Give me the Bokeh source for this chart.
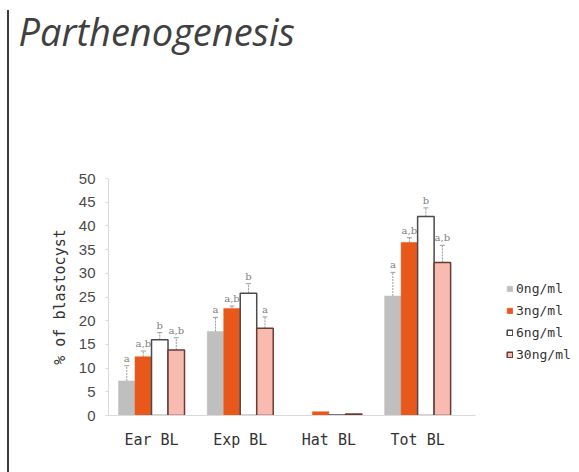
import numpy as np
from bokeh.plotting import figure
from bokeh.layouts import row, column
from bokeh.models import (Range1d, FixedTicker, Whisker, TeeHead, Legend, LegendItem,
                          ColumnDataSource, Div)
from bokeh.core.properties import value
from bokeh.embed import file_html
from bokeh.resources import INLINE

# Blastocyst stages and doses
categories = ["Ear BL", "Exp BL", "Hat BL", "Tot BL"]
doses = ["0ng/ml", "3ng/ml", "6ng/ml", "30ng/ml"]

# Mean % of blastocyst per dose, one list per dose (order follows categories)
mean_0 = [7.3, 17.7, 0.0, 25.2]
mean_3 = [12.4, 22.6, 0.8, 36.5]
mean_6 = [16.0, 25.8, 0.1, 42.0]
mean_30 = [13.8, 18.4, 0.3, 32.3]

# Upper error (SEM)
err_0 = [3.2, 3.0, 0.0, 5.0]
err_3 = [1.2, 0.5, 0.0, 1.0]
err_6 = [1.5, 2.0, 0.0, 1.8]
err_30 = [2.6, 2.4, 0.0, 3.6]

# Significance letters
sig_0 = ["a", "a", "", "a"]
sig_3 = ["a,b", "a,b", "", "a,b"]
sig_6 = ["b", "b", "", "b"]
sig_30 = ["a,b", "a", "", "a,b"]

title_text = "Parthenogenesis"

means = [mean_0, mean_3, mean_6, mean_30]
errs = [err_0, err_3, err_6, err_30]
sigs = [sig_0, sig_3, sig_6, sig_30]

fills = ["#BFBFBF", "#E8581A", "#FFFFFF", "#F8BBB0"]
outlines = [None, None, "#4A4A4A", "#6B3A35"]

W, H = 579, 472
RULE_W = 12
HEAD_H = 64

# Thin vertical rule down the left edge of the page
rule = Div(text="", width=2, height=H - 10, margin=(10, 3, 0, 7),
           styles={"background-color": "#3a3a3a"})

# Main chart geometry (pixels on the page)
frame_left, frame_top, frame_bottom = 108, 178, 415
px_per_cat = 88.7
x0 = -0.485
x1 = x0 + (W - frame_left) / px_per_cat

# Heading strip: a figure whose title carries the heading text
head = figure(width=W - RULE_W, height=HEAD_H, output_backend="svg", toolbar_location=None,
              x_range=Range1d(0, 1), y_range=Range1d(0, 1),
              x_axis_location=None, y_axis_location=None,
              min_border_left=frame_left - RULE_W, min_border_right=0,
              min_border_top=54, min_border_bottom=0)
head.grid.visible = False
head.outline_line_color = None
head.background_fill_color = "white"
head.border_fill_color = "white"
head.title.text = title_text
head.title.align = "left"
head.title.offset = 18 - frame_left
head.title.standoff = 4
head.title.text_font = "Open Sans"
head.title.text_font_style = "italic"
head.title.text_font_size = "38px"
head.title.text_color = "#404040"

p = figure(width=W - RULE_W, height=H - HEAD_H, output_backend="svg",
           toolbar_location=None,
           x_range=Range1d(x0, x1), y_range=Range1d(0, 50),
           min_border_left=frame_left - RULE_W, min_border_right=0,
           min_border_top=frame_top - HEAD_H, min_border_bottom=H - frame_bottom)
p.outline_line_color = None
p.grid.visible = False
p.background_fill_color = "white"
p.border_fill_color = "white"

bw = 0.186
offsets = [-1.5 * bw, -0.5 * bw, 0.5 * bw, 1.5 * bw]
idx = list(range(len(categories)))

renderers = []
for k in range(4):
    xs = np.array(idx, dtype=float) + offsets[k]
    m = np.array(means[k])
    e = np.array(errs[k])
    src = ColumnDataSource(dict(x=xs, top=m, upper=m + e, sig=sigs[k]))
    r = p.vbar(x="x", top="top", width=bw, source=src,
               fill_color=fills[k],
               line_color=outlines[k] if outlines[k] else fills[k],
               line_width=1.5 if outlines[k] else 0.5)
    renderers.append(r)
    has_err = e > 0
    esrc = ColumnDataSource(dict(x=xs[has_err], base=m[has_err], upper=(m + e)[has_err]))
    p.add_layout(Whisker(source=esrc, base="x", lower="base", upper="upper",
                         dimension="height", lower_head=None,
                         upper_head=TeeHead(size=5, line_color="#9A9A9A", line_width=1),
                         line_color="#9A9A9A", line_width=1, line_dash="2 1"))
    p.text(x="x", y="upper", text="sig", source=src, text_align="center",
           text_baseline="bottom", y_offset=-2, text_font=value("DejaVu Serif"),
           text_font_size="10px", text_color="#808080")

# Axes
p.yaxis.ticker = FixedTicker(ticks=list(range(0, 51, 5)))
p.yaxis.axis_line_color = "#DADADA"
p.yaxis.major_tick_line_color = "#DADADA"
p.yaxis.major_tick_out = 3
p.yaxis.major_tick_in = 0
p.yaxis.minor_tick_line_color = None
p.yaxis.major_label_text_font = "Liberation Sans"
p.yaxis.major_label_text_font_size = "15px"
p.yaxis.major_label_text_color = "#4A4A4A"
p.yaxis.major_label_standoff = 10
p.yaxis.axis_label = "% of blastocyst"
p.yaxis.axis_label_text_font = "DejaVu Sans Mono"
p.yaxis.axis_label_text_font_style = "normal"
p.yaxis.axis_label_text_font_size = "15px"
p.yaxis.axis_label_text_color = "#333333"
p.yaxis.axis_label_standoff = 7

p.xaxis.ticker = FixedTicker(ticks=idx)
p.xaxis.bounds = (-0.54, 3.65)
p.xaxis.major_label_overrides = {i: c for i, c in zip(idx, categories)}
p.xaxis.axis_line_color = "#DADADA"
p.xaxis.major_tick_line_color = None
p.xaxis.minor_tick_line_color = None
p.xaxis.major_label_text_font = "DejaVu Sans Mono"
p.xaxis.major_label_text_font_size = "15px"
p.xaxis.major_label_text_color = "#333333"
p.xaxis.major_label_standoff = 9

# Legend beside the bars
legend = Legend(items=[LegendItem(label=d, renderers=[r]) for d, r in zip(doses, renderers)],
                location=(W - frame_left - 73, 52), padding=0, margin=0, spacing=4,
                glyph_width=7, glyph_height=7, label_standoff=3, label_height=18,
                label_text_font="DejaVu Sans Mono", label_text_font_size="13px",
                label_text_color="#333333", border_line_color=None,
                background_fill_alpha=0)
p.add_layout(legend, "center")

layout = row(rule, column(head, p, spacing=0), spacing=0)
open("out.html", "w").write(file_html(layout, INLINE))
